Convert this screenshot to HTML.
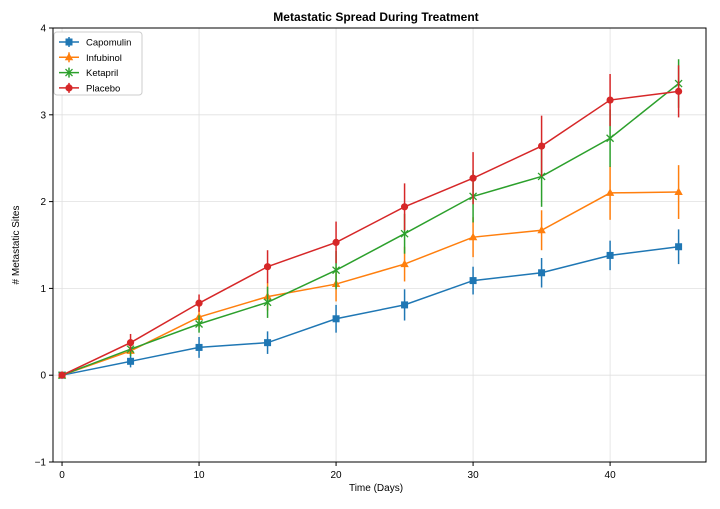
<!DOCTYPE html>
<html><head><meta charset="utf-8"><style>
body{margin:0;background:#fff;font-family:"Liberation Sans","DejaVu Sans",sans-serif}
svg text{font-family:"Liberation Sans","DejaVu Sans",sans-serif}
</style></head><body>
<svg id="chart" width="720" height="504" xmlns="http://www.w3.org/2000/svg">
<rect width="720" height="504" fill="#fff"/>
<g id="grid"></g>
<g id="series"></g>
<rect x="53" y="28" width="653" height="434" fill="none" stroke="#000" stroke-width="1"/>
<g id="axes"></g>
<text x="376" y="21" text-anchor="middle" font-size="12" font-weight="bold">Metastatic Spread During Treatment</text>
<text x="376" y="491" text-anchor="middle" font-size="10">Time (Days)</text>
<text x="19" y="245" text-anchor="middle" font-size="10" transform="rotate(-90 19 245)"># Metastatic Sites</text>
<g id="legend"></g>
</svg>
<script>
const days=[0,5,10,15,20,25,30,35,40,45];
const seriesNames=["Capomulin","Infubinol","Ketapril","Placebo"];
const seriesColors=["#1f77b4","#ff7f0e","#2ca02c","#d62728"];
const seriesMarkers=["s","^","x","o"];
const capomulin=[0,0.16,0.32,0.375,0.65,0.81,1.09,1.18,1.38,1.48];
const capomulinErr=[0,0.07,0.12,0.13,0.16,0.18,0.16,0.17,0.17,0.2];
const infubinol=[0,0.28,0.67,0.905,1.05,1.28,1.59,1.67,2.1,2.11];
const infubinolErr=[0,0.05,0.12,0.16,0.2,0.2,0.23,0.23,0.31,0.31];
const ketapril=[0,0.3,0.59,0.84,1.21,1.63,2.06,2.29,2.73,3.36];
const ketaprilErr=[0,0.08,0.1,0.18,0.22,0.23,0.3,0.35,0.33,0.28];
const placebo=[0,0.375,0.83,1.25,1.53,1.94,2.27,2.64,3.17,3.27];
const placeboErr=[0,0.1,0.1,0.19,0.24,0.27,0.3,0.35,0.3,0.3];
const xTicks=[0,10,20,30,40];
const yTicks=[-1,0,1,2,3,4];

const NS="http://www.w3.org/2000/svg";
const X0=53,X1=706,Y0=28,Y1=462;
const xMin=-0.66,xMax=47.0,yMin=-1,yMax=4;
const xs=v=>X0+(v-xMin)/(xMax-xMin)*(X1-X0);
const ys=v=>Y1-(v-yMin)/(yMax-yMin)*(Y1-Y0);
function mk(tag,attrs,parent){const e=document.createElementNS(NS,tag);for(const k in attrs)e.setAttribute(k,attrs[k]);parent.appendChild(e);return e;}
const grid=document.getElementById('grid'),axes=document.getElementById('axes'),ser=document.getElementById('series'),leg=document.getElementById('legend');
xTicks.forEach(t=>{const x=xs(t);
 const g=mk('line',{x1:x,x2:x,y1:Y0,y2:Y1,stroke:'#e0e0e0','stroke-width':0.8},grid);
 
 
 mk('line',{x1:x,x2:x,y1:Y1,y2:Y1+4,stroke:'#000'},axes);
 const tx=mk('text',{x:x,y:Y1+16,'text-anchor':'middle','font-size':10},axes);tx.textContent=t;
 
 });
yTicks.forEach(t=>{const y=ys(t);
 const g=mk('line',{x1:X0,x2:X1,y1:y,y2:y,stroke:'#e0e0e0','stroke-width':0.8},grid);
 
 
 mk('line',{x1:X0-4,x2:X0,y1:y,y2:y,stroke:'#000'},axes);
 const tx=mk('text',{x:X0-7,y:y+3.5,'text-anchor':'end','font-size':10},axes);tx.textContent=t===-1?'\u22121':t;
 
 });
function marker(type,cx,cy,c,parent){
 if(type==='s')return mk('rect',{x:cx-3.5,y:cy-3.5,width:7,height:7,fill:c},parent);
 if(type==='^')return mk('polygon',{points:`${cx},${cy-4.5} ${cx+4.2},${cy+3} ${cx-4.2},${cy+3}`,fill:c},parent);
 if(type==='o')return mk('circle',{cx:cx,cy:cy,r:3.6,fill:c},parent);
 const g=mk('g',{},parent);
 mk('line',{x1:cx-3.5,y1:cy-3.5,x2:cx+3.5,y2:cy+3.5,stroke:c,'stroke-width':1.3},g);
 mk('line',{x1:cx-3.5,y1:cy+3.5,x2:cx+3.5,y2:cy-3.5,stroke:c,'stroke-width':1.3},g);
 return g;}
const allVals=[capomulin,infubinol,ketapril,placebo],allErr=[capomulinErr,infubinolErr,ketaprilErr,placeboErr];
allVals.forEach((vals,si)=>{
 const c=seriesColors[si];
 const g=mk('g',{},ser);
 
 
 vals.forEach((v,i)=>{const e=allErr[si][i];
  const l=mk('line',{x1:xs(days[i]),x2:xs(days[i]),y1:ys(v-e),y2:ys(v+e),stroke:c,'stroke-width':1.5},g);
  
  });
 const p=mk('polyline',{points:vals.map((v,i)=>xs(days[i])+','+ys(v)).join(' '),fill:'none',stroke:c,'stroke-width':1.5},g);
 
 
 vals.forEach((v,i)=>{const m=marker(seriesMarkers[si],xs(days[i]),ys(v),c,g);
  
  });
});
const box=mk('rect',{x:54,y:32,width:88,height:63,rx:3,fill:'#fff',stroke:'#ccc'},leg);


seriesNames.forEach((n,i)=>{const y=42+i*15.3,c=seriesColors[i];
 const g=mk('g',{},leg);
 
 
 mk('line',{x1:59,x2:79,y1:y,y2:y,stroke:c,'stroke-width':1.5},g);
 mk('line',{x1:69,x2:69,y1:y-5,y2:y+5,stroke:c,'stroke-width':1.5},g);
 marker(seriesMarkers[i],69,y,c,g);
 const t=mk('text',{x:86,y:y+3.5,'font-size':9.5},g);t.textContent=n;});
</script>
</body></html>
